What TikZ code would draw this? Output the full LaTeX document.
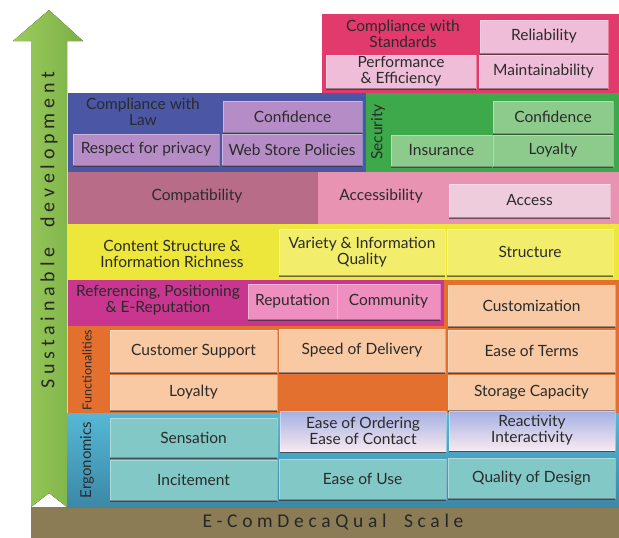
\documentclass[tikz,border=0pt]{standalone}
\usepackage{fontspec}
\setmainfont{Lato}
\newfontfamily\trackfont[LetterSpace=24]{Carlito}
\usetikzlibrary{shadows}

\definecolor{ink}{HTML}{2B2B2B}
\definecolor{stdred}{HTML}{E23A6C}
\definecolor{stdbox}{HTML}{F0BDD8}
\definecolor{lawblue}{HTML}{4B57A4}
\definecolor{lawbox}{HTML}{B68CC6}
\definecolor{secgreen}{HTML}{3DA94B}
\definecolor{secbox}{HTML}{8DCB8C}
\definecolor{compmauve}{HTML}{B96C88}
\definecolor{accpink}{HTML}{E993B3}
\definecolor{accbox}{HTML}{EFCCDC}
\definecolor{contyellow}{HTML}{EDE73B}
\definecolor{contbox}{HTML}{F2EE6C}
\definecolor{refmagenta}{HTML}{C8368F}
\definecolor{refbox}{HTML}{EF8FC0}
\definecolor{funcorange}{HTML}{E4702F}
\definecolor{funcbox}{HTML}{F8C9A2}
\definecolor{ergotop}{HTML}{55B8D6}
\definecolor{ergobot}{HTML}{3B88A6}
\definecolor{ergobox}{HTML}{81C8C6}
\definecolor{glowtop}{HTML}{A4B0E2}
\definecolor{glowbot}{HTML}{F7E8F0}
\definecolor{scaleolive}{HTML}{8B7C56}
\definecolor{arrowlight}{HTML}{9CCB5E}
\definecolor{arrowdark}{HTML}{7BB046}

\tikzset{
  cellbox/.style={inner sep=0pt, outer sep=0pt, align=center, text=ink,
    draw=white, draw opacity=0.35, line width=0.5pt,
    font=\fontsize{15.5}{16}\selectfont,
    drop shadow={shadow xshift=0pt, shadow yshift=-2pt, opacity=0.7, fill=black!80}},
  blocklabel/.style={inner sep=0pt, align=center, text=ink,
    font=\fontsize{15.5}{16}\selectfont},
  tracked/.style={inner sep=0pt, text=ink!90!black},
}

% cell: name, x1, y1, x2, y2, options, text
\newcommand\mkcell[7]{%
  \pgfmathsetmacro\cellW{#4-#2}\pgfmathsetmacro\cellH{#5-#3}%
  \node[cellbox,#6,minimum width=\cellW pt,minimum height=\cellH pt]
    (#1) at ({(#2+#4)/2},{(#3+#5)/2}) {#7};}

\begin{document}
\begin{tikzpicture}[x=1pt,y=-1pt]
\useasboundingbox (0,0) rectangle (619,538);
\fill[white] (0,0) rectangle (619,538);

% growth arrow
\fill[left color=arrowlight, right color=arrowdark]
  (49,10) -- (83,41) -- (67,41) -- (67,507) -- (49,493) -- (31,507)
  -- (31,41) -- (13,41) -- cycle;
\node[tracked, rotate=90, font=\trackfont\fontsize{20}{20}\selectfont]
  (sustain) at (49,230) {Sustainable\hspace{1em}development};

% scale base
\fill[scaleolive] (31,507) rectangle (619,538);
\node[tracked, font=\trackfont\fontsize{19.5}{20}\selectfont]
  (scale) at (333,522) {E-ComDecaQual\hspace{0.9em}Scale};

% standards
\fill[stdred] (322,14) rectangle (619,93);
\node[blocklabel] (stdT) at (403,34) {Compliance with\\Standards};
\mkcell{reliab}{480}{20}{608}{53}{fill=stdbox}{Reliability}
\mkcell{perf}{326}{55}{476}{88}{fill=stdbox}{Performance\\\& Efficiency}
\mkcell{maint}{479}{55}{608}{88}{fill=stdbox}{Maintainability}

% law
\fill[lawblue] (68,93) rectangle (366,172);
\node[blocklabel] (lawT) at (143,112) {Compliance with\\Law};
\mkcell{confLaw}{223}{101}{362}{132}{fill=lawbox}{Confidence}
\mkcell{privacy}{73}{134}{219}{165}{fill=lawbox}{Respect for privacy}
\mkcell{policies}{222}{134}{362}{165}{fill=lawbox}{Web Store Policies}

% security
\fill[secgreen] (366,93) rectangle (619,172);
\node[blocklabel, rotate=90] (secT) at (378,132) {Security};
\mkcell{confSec}{493}{101}{613}{133}{fill=secbox}{Confidence}
\mkcell{insur}{391}{135}{492}{166}{fill=secbox}{Insurance}
\mkcell{loySec}{493}{135}{613}{166}{fill=secbox}{Loyalty}

% compatibility / accessibility
\fill[compmauve] (68,172) rectangle (318,224);
\fill[accpink] (318,172) rectangle (619,224);
\node[blocklabel] (compT) at (197,196) {Compatibility};
\node[blocklabel] (accT) at (381,196) {Accessibility};
\mkcell{access}{449}{184}{610}{217}{fill=accbox}{Access}

% content
\fill[contyellow] (68,224) rectangle (619,280);
\node[blocklabel] (contT) at (172,254) {Content Structure \&\\Information Richness};
\mkcell{variety}{279}{229}{445}{275}{fill=contbox}{Variety \& Information\\Quality}
\mkcell{struct}{447}{229}{613}{275}{fill=contbox}{Structure}

% referencing and functionalities
\fill[funcorange] (68,280) rectangle (619,413);
\fill[refmagenta] (68,280) rectangle (444,326);
\node[blocklabel] (refT) at (158,300) {Referencing, Positioning\\\& E-Reputation};
\mkcell{reput}{248}{284}{337}{319}{fill=refbox}{Reputation}
\mkcell{commun}{337}{284}{440}{319}{fill=refbox}{Community}
\mkcell{custom}{448}{285}{615}{326}{fill=funcbox}{Customization}
\node[blocklabel, rotate=90, font=\fontsize{12.5}{13}\selectfont] (funcT) at (87,370) {Functionalities};
\mkcell{support}{110}{330}{277}{372}{fill=funcbox}{Customer Support}
\mkcell{speed}{279}{329}{445}{372}{fill=funcbox}{Speed of Delivery}
\mkcell{terms}{448}{330}{615}{372}{fill=funcbox}{Ease of Terms}
\mkcell{loyFunc}{110}{375}{277}{410}{fill=funcbox}{Loyalty}
\mkcell{storage}{448}{375}{615}{410}{fill=funcbox}{Storage Capacity}

% ergonomics
\fill[top color=ergotop, bottom color=ergobot] (67,413) rectangle (619,507);
\node[blocklabel, rotate=90, font=\fontsize{15}{15}\selectfont] (ergoT) at (87,460) {Ergonomics};
\mkcell{sensation}{110}{418}{277}{457}{fill=ergobox}{Sensation}
\mkcell{ordering}{280}{411}{446}{451}{top color=glowtop, bottom color=glowbot}{Ease of Ordering\\Ease of Contact}
\mkcell{react}{449}{411}{615}{450}{top color=glowtop, bottom color=glowbot}{Reactivity\\Interactivity}
\mkcell{incite}{110}{460}{277}{500}{fill=ergobox}{Incitement}
\mkcell{easeuse}{279}{459}{446}{499}{fill=ergobox}{Ease of Use}
\mkcell{design}{448}{458}{615}{498}{fill=ergobox}{Quality of Design}
\end{tikzpicture}
\end{document}
